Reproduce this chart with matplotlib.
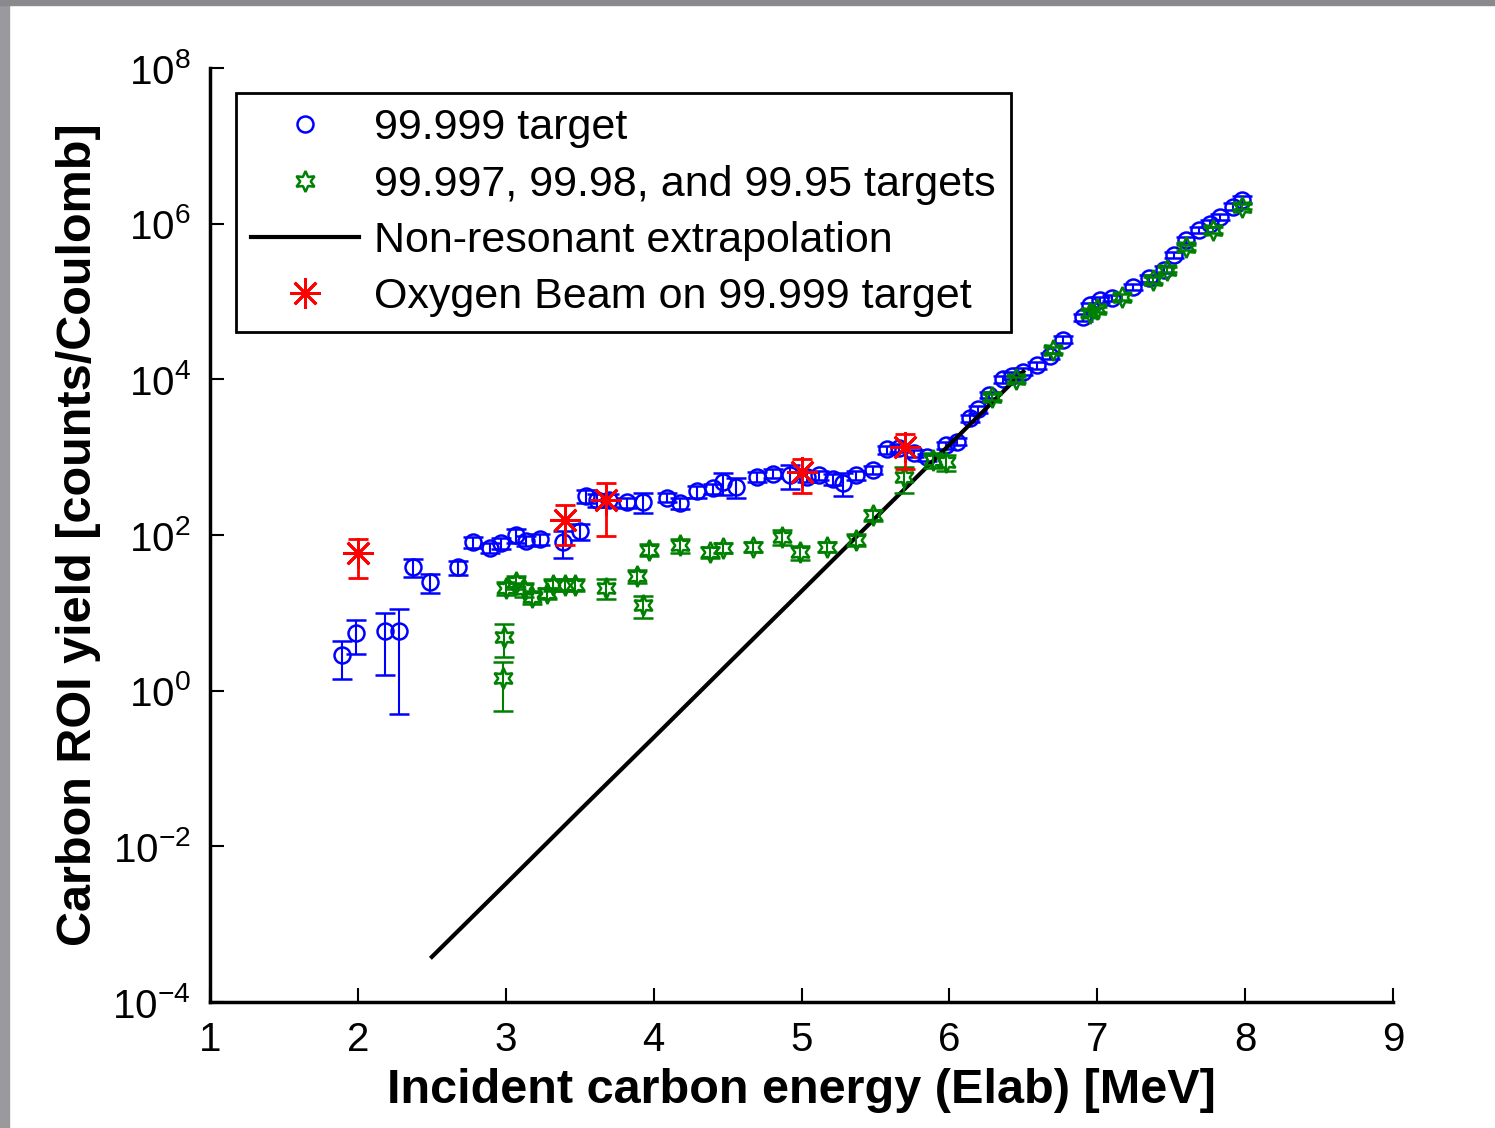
import numpy as np
import matplotlib
matplotlib.use("Agg")
import matplotlib.pyplot as plt
from matplotlib.patches import Rectangle

plt.rcParams["font.family"] = ["Liberation Sans", "DejaVu Sans"]
plt.rcParams["mathtext.fontset"] = "custom"
plt.rcParams["mathtext.rm"] = "Liberation Sans"
plt.rcParams["mathtext.it"] = "Liberation Sans"

# 99.999 target
blue_e = [1.89, 1.99, 2.18, 2.28, 2.37, 2.49, 2.68, 2.78, 2.89, 2.97, 3.07, 3.14,
          3.23, 3.39, 3.50, 3.54, 3.62, 3.70, 3.82, 3.93, 4.09, 4.18, 4.29, 4.40,
          4.47, 4.56, 4.70, 4.81, 4.92, 5.04, 5.12, 5.21, 5.28, 5.37, 5.48, 5.58,
          5.66, 5.76, 5.85, 5.98, 6.05, 6.14, 6.19, 6.27, 6.36, 6.42, 6.50, 6.59,
          6.68, 6.77, 6.90, 6.95, 7.02, 7.10, 7.24, 7.35, 7.45, 7.52, 7.60, 7.69,
          7.76, 7.83, 7.92, 7.98]
blue_y = [2.9, 5.5, 5.8, 5.8, 39, 25, 39, 81, 69, 79, 100, 85,
          89, 81, 112, 316, 282, 282, 263, 269, 302, 257, 363, 398,
          479, 417, 562, 617, 589, 562, 589, 525, 468, 589, 692, 1259,
          1318, 1122, 1000, 1413, 1585, 3162, 4169, 6310, 1.0e4, 1.12e4, 1.26e4, 1.51e4,
          2.0e4, 3.24e4, 6.3e4, 8.9e4, 1.05e5, 1.12e5, 1.55e5, 2.0e5, 2.57e5, 3.98e5,
          6.17e5, 8.3e5, 1.0e6, 1.23e6, 1.66e6, 2.04e6]
blue_err = [1.5, 2.5, 4.2, 5.3, 10, 7, 8, 12, 10, 12, 20, 12,
            15, 30, 25, 60, 50, 50, 40, 80, 40, 40, 60, 60,
            150, 120, 80, 80, 200, 80, 80, 80, 150, 80, 80, 150,
            150, 120, 110, 150, 170, 330, 420, 630, 1000, 1100, 1300, 1500,
            2000, 3200, 6000, 8000, 1.0e4, 1.1e4, 1.5e4, 2.0e4, 2.5e4, 4.0e4,
            6.0e4, 8.0e4, 1.0e5, 1.2e5, 1.6e5, 2.0e5]

# 99.997, 99.98 and 99.95 targets
green_e = [2.98, 2.99, 3.00, 3.07, 3.12, 3.18, 3.28, 3.32, 3.40, 3.47, 3.68, 3.89,
           3.93, 3.97, 4.18, 4.38, 4.47, 4.67, 4.87, 4.99, 5.17, 5.37, 5.48, 5.69,
           5.89, 5.98, 6.29, 6.45, 6.70, 6.95, 7.00, 7.17, 7.38, 7.47, 7.60, 7.78, 7.98]
green_y = [1.45, 4.9, 21, 25, 20, 16, 18, 23, 23, 23, 21, 30,
           12.6, 65, 74, 60, 69, 71, 95, 60, 71, 87, 182, 550,
           933, 871, 6.0e3, 1.0e4, 2.4e4, 7.2e4, 7.9e4, 1.15e5, 1.9e5, 2.57e5, 5.0e5, 8.3e5, 1.66e6]
green_err = [0.9, 2.2, 4, 5, 4, 3, 3, 4, 4, 4, 6, 6,
             4, 12, 15, 10, 10, 10, 20, 12, 10, 15, 30, 200,
             200, 200, 500, 800, 2000, 6000, 6000, 9000, 1.5e4, 2.0e4, 4.0e4, 6.5e4, 1.3e5]

# Oxygen beam on 99.999 target
red_e = [2.0, 3.4, 3.68, 5.0, 5.7]
red_y = [59, 158, 282, 646, 1349]
red_err = [31, 83, 185, 300, 640]

# Non-resonant extrapolation
line_e = [2.5, 3.0, 3.5, 4.0, 4.5, 5.0, 5.5, 6.0, 6.5]
line_y = [3.8e-4, 3.3e-3, 0.029, 0.25, 2.19, 19, 166, 1445, 1.26e4]

blue = (0, 0, 1)
green = (0, 0.5, 0)
red = (1, 0, 0)
hexagram = (6, 1, 0)
asterisk = (8, 2, 0)

fig = plt.figure(figsize=(14.95, 11.28), dpi=100)
ax = fig.add_axes([0.1405, 0.1117, 0.7913, 0.828])

ax.plot(line_e, line_y, color="k", lw=3, label="Non-resonant extrapolation", zorder=3)

ax.errorbar(blue_e, blue_y, yerr=blue_err, fmt="none", ecolor=blue, elinewidth=1.5,
            capsize=7, capthick=1.8, zorder=2)
h_blue, = ax.plot(blue_e, blue_y, ls="none", marker="o", ms=11.5, mfc="none", mec=blue,
                  mew=1.8, label="99.999 target", zorder=2)

ax.errorbar(green_e, green_y, yerr=green_err, fmt="none", ecolor=green, elinewidth=1.5,
            capsize=7, capthick=1.8, zorder=4)
h_green, = ax.plot(green_e, green_y, ls="none", marker=hexagram, ms=15, mfc="none",
                   mec=green, mew=1.8, label="99.997, 99.98, and 99.95 targets", zorder=4)

ax.errorbar(red_e, red_y, yerr=red_err, fmt="none", ecolor=red, elinewidth=2,
            capsize=7, capthick=2, zorder=5)
h_red, = ax.plot(red_e, red_y, ls="none", marker=asterisk, ms=22, mec=red, mew=2,
                 label="Oxygen Beam on 99.999 target", zorder=5)

ax.set_yscale("log")
ax.set_xlim(1, 9)
ax.set_ylim(1e-4, 1e8)
ax.set_xticks(range(1, 10))
ax.set_yticks([1e-4, 1e-2, 1e0, 1e2, 1e4, 1e6, 1e8])
ax.yaxis.set_minor_locator(matplotlib.ticker.NullLocator())

for side in ["top", "right"]:
    ax.spines[side].set_visible(False)
for side in ["left", "bottom"]:
    ax.spines[side].set_linewidth(2.5)
ax.tick_params(direction="in", length=10, width=1.5, labelsize=29, colors="k")
ax.tick_params(axis="x", pad=14)
ax.tick_params(axis="y", pad=14)

ax.set_xlabel("Incident carbon energy (Elab) [MeV]", fontsize=35, fontweight="bold", labelpad=6)
ax.set_ylabel("Carbon ROI yield [counts/Coulomb]", fontsize=35, fontweight="bold", labelpad=8)

leg = ax.legend(handles=[h_blue, h_green, ax.lines[0], h_red], loc="upper left",
                bbox_to_anchor=(0.022, 0.973), borderaxespad=0, fontsize=31,
                fancybox=False, framealpha=1, edgecolor="k", handlelength=2.5,
                handletextpad=0.35, labelspacing=0.38, borderpad=0.35)
leg.get_frame().set_linewidth(2)

# grey frame of the original screenshot
fig.patches.append(Rectangle((0, 0), 0.006, 1, transform=fig.transFigure, color="#9a9a9e", zorder=0))
fig.patches.append(Rectangle((0, 0.996), 1, 0.004, transform=fig.transFigure, color="#8a8a8e", zorder=0))

fig.savefig("out.png", dpi=100)
